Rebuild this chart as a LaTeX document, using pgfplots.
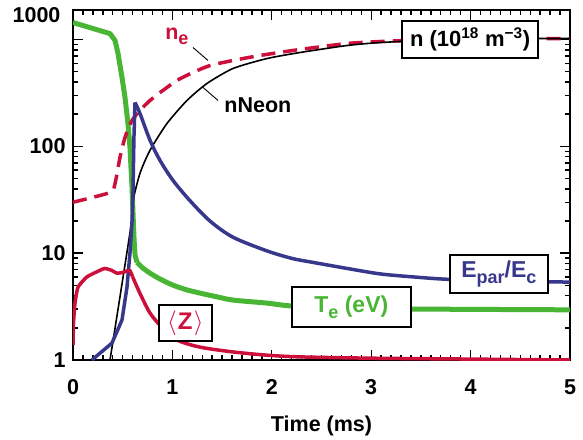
\documentclass[border=0pt]{standalone}
\usepackage{pgfplots}
\pgfplotsset{compat=1.18}
\usepackage{fontspec}
\setmainfont{Liberation Sans}
\definecolor{tgreen}{RGB}{72,182,52}
\definecolor{zblue}{RGB}{55,55,140}
\definecolor{zred}{RGB}{205,15,60}
\newcommand\sub[1]{\raisebox{-0.45ex}{\fontsize{18}{18}\selectfont #1}}
\newcommand\bigf{\bfseries\fontsize{21.5}{24}\selectfont}
\begin{document}
\begin{tikzpicture}
\begin{axis}[
  name=ax,
  at={(0,0)}, anchor=south west,
  scale only axis, width=497pt, height=350pt,
  xmin=0, xmax=5, ymode=log, ymin=1, ymax=1890,
  xtick={0,1,2,3,4,5}, minor x tick num=9,
  ytick={1,10,100,1000}, yticklabels={1,10,100,{}},
  /pgf/number format/assume math mode=true,
  ticklabel style={font=\bigf},
  yticklabel style={xshift=-4pt},
  xticklabel style={yshift=-16pt},
  xlabel={Time (ms)}, xlabel style={font=\bigf, yshift=-14pt},
  axis line style={line width=2.4pt},
  major tick length=10pt, minor tick length=5pt,
  every major tick/.append style={black, line width=1.4pt},
  every minor tick/.append style={black, line width=1.4pt},
]
% tick marks inside the frame (end points in axis units: 5pt = 0.0503 in x, factor 1.114 in y)
\pgfplotsinvokeforeach{0.1,0.2,0.3,0.4,0.5,0.6,0.7,0.8,0.9,1.1,1.2,1.3,1.4,1.5,1.6,1.7,1.8,1.9,2.1,2.2,2.3,2.4,2.5,2.6,2.7,2.8,2.9,3.1,3.2,3.3,3.4,3.5,3.6,3.7,3.8,3.9,4.1,4.2,4.3,4.4,4.5,4.6,4.7,4.8,4.9}{
  \draw[black, line width=1.4pt] (axis cs:#1,1) -- (axis cs:#1,1.114);
  \draw[black, line width=1.4pt] (axis cs:#1,1890) -- (axis cs:#1,1696);
}
\pgfplotsinvokeforeach{0,1,2,3,4,5}{
  \draw[black, line width=1.4pt] (axis cs:#1,1) -- (axis cs:#1,1.241);
  \draw[black, line width=1.4pt] (axis cs:#1,1890) -- (axis cs:#1,1523);
}
\pgfplotsinvokeforeach{2,3,4,5,6,7,8,9,20,30,40,50,60,70,80,90,200,300,400,500,600,700,800,900}{
  \draw[black, line width=1.4pt] (axis cs:0,#1) -- (axis cs:0.0503,#1);
  \draw[black, line width=1.4pt] (axis cs:5,#1) -- (axis cs:4.9497,#1);
}
\pgfplotsinvokeforeach{1,10,100,1000}{
  \draw[black, line width=1.4pt] (axis cs:0,#1) -- (axis cs:0.1006,#1);
  \draw[black, line width=1.4pt] (axis cs:5,#1) -- (axis cs:4.8994,#1);
}
% T_e
\addplot[tgreen, line width=5pt, line join=round] coordinates {
(0,1442) (0.372,1137) (0.423,979) (0.453,740) (0.493,442) (0.523,287) (0.553,164) (0.573,98) (0.594,41) (0.605,22) (0.615,13) (0.625,9.5) (0.644,8.2)};
\addplot[tgreen, line width=5pt, smooth, tension=0.5] coordinates {
(0.644,8.2) (0.700,7.3) (0.775,6.5) (0.88,5.7) (1.006,5.02) (1.14,4.55) (1.278,4.23) (1.45,3.9) (1.61,3.64) (1.95,3.41) (2.21,3.2) (2.8,3.05) (3.42,3.0) (5.0,2.95)
};
% n_e
\addplot[zred, line width=3.5pt, dash pattern=on 14pt off 8pt, smooth, tension=0.4] coordinates {
(0,30) (0.372,37) (0.423,45) (0.473,79) (0.523,121) (0.594,175) (0.674,217) (0.775,269) (0.905,334) (1.046,414) (1.207,492) (1.378,571) (1.61,637) (1.881,709) (2.284,807) (2.757,918) (3.089,958) (3.6,995) (4.2,1015) (4.77,1022) (5,1022)
};
% nNeon
\addplot[black, line width=1.6pt, smooth, tension=0.4] coordinates {
(0.35,0.8) (0.372,1) (0.483,4.5) (0.594,21) (0.604,31) (0.674,56) (0.775,92) (0.946,164) (1.147,269) (1.348,388) (1.61,536) (1.952,664) (2.284,756) (2.757,879) (3.089,937) (3.6,985) (4.2,1010) (4.68,1022) (5,1022)
};
% E_par/E_c
\addplot[zblue, line width=3.5pt, line join=round] coordinates {
(0.19,1) (0.392,1.44) (0.493,2.37) (0.543,4.8) (0.573,10) (0.594,20) (0.603,35) (0.613,120) (0.624,258)};
\addplot[zblue, line width=3.5pt, smooth, tension=0.5] coordinates {
(0.624,258) (0.674,203) (0.775,114) (0.875,74) (1.006,48) (1.177,31) (1.378,20) (1.61,14.1) (1.952,10.5) (2.21,8.9) (2.414,8.2) (2.757,7.2) (3.089,6.4) (3.42,6.0) (3.76,5.7) (4.3,5.5) (5,5.36)
};
% <Z>
\addplot[zred, line width=3.5pt, line join=round, smooth, tension=0.3] coordinates {
(0,1.38) (0.005,2.2) (0.02,3.4) (0.05,4.8) (0.14,6.0) (0.27,6.9) (0.32,7.2) (0.39,6.9) (0.44,6.5) (0.50,6.6) (0.57,6.9) (0.60,6.0)};
\addplot[zred, line width=3.5pt, smooth, tension=0.5] coordinates {
(0.60,6.0) (0.674,4.2) (0.775,2.75) (0.9,2.0) (1.046,1.54) (1.278,1.32) (1.61,1.19) (1.95,1.11) (2.28,1.07) (3.0,1.04) (4,1.02) (5,1.0)
};
% leader lines
\draw[black, line width=0.9pt] (axis cs:1.207,842) -- (axis cs:1.358,637);
\draw[black, line width=0.9pt] (axis cs:1.308,356) -- (axis cs:1.459,269);
% labels
\node[zred, font=\bigf] at (rel axis cs:0.209,0.926) {n\sub{e}};
\node[black, font=\bigf] at (rel axis cs:0.372,0.729) {nNeon};
\node[draw=black, line width=1.8pt, fill=white, font=\bfseries\fontsize{22}{24}\selectfont, minimum width=136pt, minimum height=37pt, inner sep=1pt] at (rel axis cs:0.799,0.916) {n (10\textsuperscript{18} m\textsuperscript{−3})};
\node[draw=black, line width=1.8pt, fill=white, text=zblue, font=\bfseries\fontsize{23}{24}\selectfont, minimum width=98pt, minimum height=38pt, inner sep=1pt] at (rel axis cs:0.857,0.246) {E\sub{par}/E\sub{c}};
\node[draw=black, line width=1.8pt, fill=white, text=tgreen, font=\bfseries\fontsize{23}{24}\selectfont, minimum width=119pt, minimum height=40pt, inner sep=1pt] at (rel axis cs:0.560,0.151) {T\sub{e} (eV)};
\node[draw=black, line width=1.8pt, fill=white, text=zred, font=\bfseries\fontsize{24}{26}\selectfont, minimum width=53pt, minimum height=36pt, inner sep=1pt] at (rel axis cs:0.226,0.106) {$\left\langle\vphantom{Z}\right.$Z$\left.\vphantom{Z}\right\rangle$};
\end{axis}
\node[anchor=east, font=\bigf] at ([xshift=-9pt, yshift=-5pt]ax.north west) {1000};
\path (-73pt,-74pt) rectangle (510pt,360pt);
\end{tikzpicture}
\end{document}
